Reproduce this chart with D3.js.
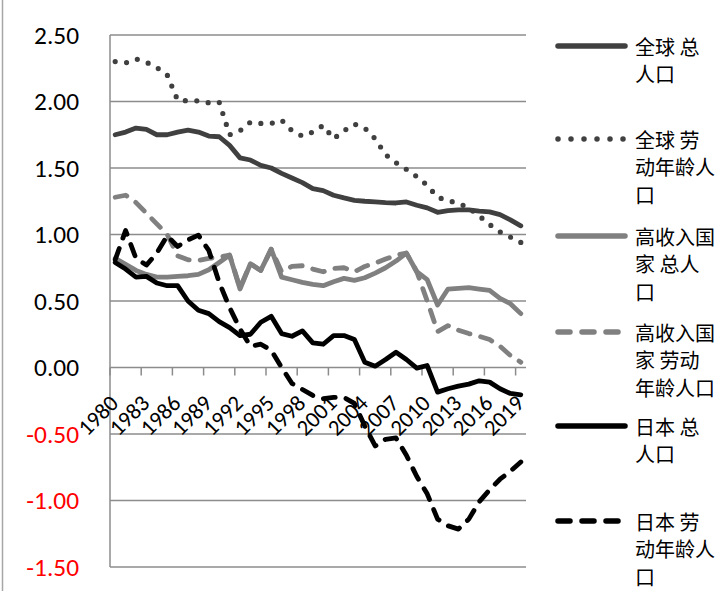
<!DOCTYPE html>
<html>
<head>
<meta charset="utf-8">
<script src="https://cdn.jsdelivr.net/npm/d3@7"></script>
<style>
  html, body { margin: 0; padding: 0; background: #fff; }
  svg { display: block; }
</style>
</head>
<body>
<svg id="chart" width="727" height="591"></svg>
<script>
// ---------------- data ----------------
const years = d3.range(1980, 2020);
const xTickLabels = [1980, 1983, 1986, 1989, 1992, 1995, 1998, 2001, 2004, 2007, 2010, 2013, 2016, 2019];
const yTicks = [-1.5, -1.0, -0.5, 0, 0.5, 1.0, 1.5, 2.0, 2.5];

const worldTotal = [1.75,1.77,1.80,1.79,1.75,1.75,1.77,1.785,1.77,1.74,1.735,1.67,1.576,1.56,1.52,1.50,1.46,1.425,1.39,1.345,
                    1.33,1.295,1.275,1.257,1.25,1.245,1.24,1.237,1.245,1.22,1.20,1.167,1.18,1.185,1.185,1.175,1.17,1.15,1.11,1.065];
const worldWorking = [2.30,2.29,2.32,2.295,2.255,2.20,2.01,2.005,2.005,1.99,1.995,1.75,1.78,1.845,1.835,1.835,1.86,1.78,1.74,1.77,
                      1.82,1.72,1.78,1.83,1.80,1.72,1.60,1.54,1.49,1.435,1.37,1.28,1.255,1.235,1.20,1.14,1.075,1.02,0.98,0.94];
const highTotal = [0.82,0.775,0.73,0.70,0.68,0.68,0.685,0.69,0.70,0.735,0.79,0.845,0.59,0.78,0.73,0.89,0.68,0.66,0.64,0.625,
                   0.615,0.645,0.67,0.655,0.675,0.71,0.75,0.80,0.86,0.72,0.66,0.47,0.59,0.595,0.60,0.59,0.58,0.52,0.48,0.405];
const highWorking = [1.28,1.295,1.24,1.16,1.08,1.00,0.84,0.81,0.805,0.82,0.83,0.845,0.60,0.78,0.73,0.89,0.72,0.76,0.765,0.74,
                     0.72,0.745,0.75,0.72,0.76,0.785,0.815,0.845,0.86,0.72,0.50,0.27,0.315,0.28,0.255,0.235,0.21,0.16,0.09,0.04];
const japanTotal = [0.79,0.74,0.68,0.685,0.635,0.615,0.615,0.50,0.43,0.405,0.345,0.30,0.24,0.25,0.34,0.385,0.255,0.235,0.275,0.185,
                   0.175,0.24,0.24,0.21,0.04,0.01,0.06,0.115,0.06,-0.005,0.015,-0.185,-0.16,-0.14,-0.125,-0.10,-0.11,-0.16,-0.195,-0.205];
const japanWorking = [0.81,1.03,0.82,0.77,0.86,0.99,0.91,0.96,0.995,0.88,0.64,0.45,0.29,0.16,0.175,0.13,0.00,-0.12,-0.165,-0.21,
                      -0.235,-0.225,-0.225,-0.27,-0.44,-0.59,-0.54,-0.53,-0.66,-0.82,-0.95,-1.14,-1.19,-1.215,-1.14,-1.01,-0.92,-0.84,-0.78,-0.71];

const seriesNames = [
  ["全球 总", "人口"],
  ["全球 劳", "动年龄人", "口"],
  ["高收入国", "家 总人", "口"],
  ["高收入国", "家 劳动", "年龄人口"],
  ["日本 总", "人口"],
  ["日本 劳", "动年龄人", "口"]
];
const seriesValues = [worldTotal, worldWorking, highTotal, highWorking, japanTotal, japanWorking];

// ---------------- styles ----------------
const styles = [
  {color: "#404040", width: 4.8, dash: null,       legendDash: null},
  {color: "#404040", width: 5.2, dash: "0,11.5",   legendDash: "0,13"},
  {color: "#808080", width: 4.8, dash: null,       legendDash: null},
  {color: "#808080", width: 4.8, dash: "12,11",    legendDash: "12,12"},
  {color: "#000000", width: 4.8, dash: null,       legendDash: null},
  {color: "#000000", width: 4.8, dash: "12,11",    legendDash: "12,12"}
];

const svg = d3.select("#chart");
const plotL = 110, plotR = 526, plotT = 35, plotB = 567;

const x = d3.scaleBand().domain(years).range([plotL, plotR]).padding(0);
const bw = x.bandwidth();
const cx = yr => x(yr) + bw / 2;
const y = d3.scaleLinear().domain([-1.5, 2.5]).range([plotB, plotT]);

const gridColor = "#8c8c8c";
const numFont = "Carlito, Calibri, Lato, 'Liberation Sans', sans-serif";
const cjkFont = "'Noto Sans CJK SC', 'Noto Sans CJK JP', sans-serif";

// fit a font size so that a sample string has a target advance width
function fitSize(sample, target, base) {
  const t = svg.append("text").attr("font-family", numFont).attr("font-size", base).text(sample);
  const w = t.node().getComputedTextLength();
  t.remove();
  return w > 0 ? base * target / w : base;
}
const yFont = fitSize("2.50", 45, 22);
const xFont = fitSize("1980", 46, 20);

// left outer border
svg.append("line").attr("x1", 2.5).attr("x2", 2.5).attr("y1", 0).attr("y2", 591)
  .attr("stroke", "#a6a6a6").attr("stroke-width", 1.5);

// gridlines
svg.append("g").selectAll("line").data(yTicks).join("line")
  .attr("x1", plotL).attr("x2", plotR)
  .attr("y1", d => y(d)).attr("y2", d => y(d))
  .attr("stroke", gridColor).attr("stroke-width", 1.5);

// y axis line
svg.append("line").attr("x1", plotL).attr("x2", plotL).attr("y1", plotT).attr("y2", plotB)
  .attr("stroke", gridColor).attr("stroke-width", 1.5);

// y labels
svg.append("g").selectAll("text").data(yTicks).join("text")
  .attr("x", 79).attr("y", d => y(d))
  .attr("dy", "0.35em")
  .attr("text-anchor", "end")
  .attr("font-family", numFont)
  .attr("font-size", yFont)
  .attr("fill", d => d < 0 ? "#ff0000" : "#000000")
  .text(d => d.toFixed(2));

// x tick marks at category boundaries every 3 years
svg.append("g").selectAll("line").data(xTickLabels).join("line")
  .attr("x1", d => x(d)).attr("x2", d => x(d))
  .attr("y1", y(0)).attr("y2", y(0) + 8)
  .attr("stroke", gridColor).attr("stroke-width", 1.5);

// series lines
const line = d3.line().x((d, i) => cx(years[i])).y(d => y(d));
seriesValues.forEach((vals, k) => {
  const st = styles[k];
  const p = svg.append("path").datum(vals)
    .attr("d", line)
    .attr("fill", "none")
    .attr("stroke", st.color)
    .attr("stroke-width", st.width)
    .attr("stroke-linecap", "round")
    .attr("stroke-linejoin", "round");
  if (st.dash) p.attr("stroke-dasharray", st.dash);
});

// x labels
svg.append("g").selectAll("text").data(xTickLabels).join("text")
  .attr("transform", d => `translate(${cx(d) + 4.5},${y(0) + 37}) rotate(-45)`)
  .attr("text-anchor", "end")
  .attr("font-family", numFont)
  .attr("font-size", xFont)
  .attr("fill", "#000")
  .text(d => d);

// legend
const legendFirstY = [46, 139, 236, 332, 426, 521];
const lineGap = 27.6;
const lg = svg.append("g");
seriesNames.forEach((lines, k) => {
  const st = styles[k];
  const yy = legendFirstY[k];
  const m = lg.append("line")
    .attr("x1", 558).attr("x2", 625)
    .attr("y1", yy).attr("y2", yy)
    .attr("stroke", st.color)
    .attr("stroke-width", 5.5)
    .attr("stroke-linecap", "round");
  if (st.legendDash) m.attr("stroke-dasharray", st.legendDash);
  const t = lg.append("text")
    .attr("font-family", cjkFont)
    .attr("font-size", 20)
    .attr("fill", "#000");
  lines.forEach((s, j) => {
    t.append("tspan")
      .attr("x", 635)
      .attr("y", yy + j * lineGap)
      .attr("dominant-baseline", "central")
      .text(s);
  });
});
</script>
</body>
</html>
